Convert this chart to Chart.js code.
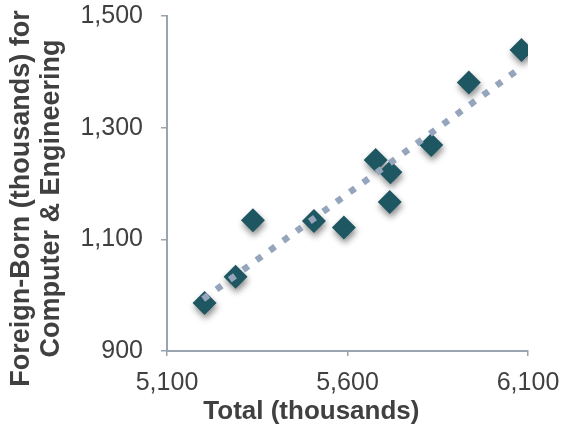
<!DOCTYPE html>
<html>
<head>
<meta charset="utf-8">
<script src="https://cdn.jsdelivr.net/npm/chart.js@4/dist/chart.umd.min.js"></script>
<style>
  html, body { margin: 0; padding: 0; background: #ffffff; }
  #wrap { width: 564px; height: 432px; position: relative; }
</style>
</head>
<body>
<div id="wrap"><canvas id="c" width="564" height="432"></canvas></div>
<script>
// Data
const totalThousands = [5204, 5290, 5338, 5507, 5590, 5678, 5719, 5717, 5832, 5936, 6082];
const foreignBornThousands = [986, 1033, 1134, 1133, 1121, 1242, 1220, 1167, 1269, 1381, 1439];
const trendX = [5200, 6075];
const trendY = [993, 1405];
const xTicks = [5100, 5600, 6100];
const yTicks = [900, 1100, 1300, 1500];
const xTitle = 'Total (thousands)';
const yTitle = ['Foreign-Born (thousands) for', 'Computer & Engineering'];

const fmt = v => Number(v).toLocaleString('en-US');
const FONT = "'Liberation Sans', Arial, sans-serif";
const AXIS = '#98a4b0';
const TEXT = '#404040';

const shadowPlugin = {
  id: 'pointShadow',
  beforeDatasetDraw(chart, args) {
    if (args.index === 0) {
      const ctx = chart.ctx;
      ctx.save();
      ctx.shadowColor = 'rgba(0,0,0,0.45)';
      ctx.shadowBlur = 6;
      ctx.shadowOffsetX = 1;
      ctx.shadowOffsetY = 4;
    }
  },
  afterDatasetDraw(chart, args) {
    if (args.index === 0) chart.ctx.restore();
  }
};

new Chart(document.getElementById('c'), {
  type: 'scatter',
  data: {
    datasets: [
      {
        label: 'Points',
        data: totalThousands.map((x, i) => ({ x: x, y: foreignBornThousands[i] })),
        pointStyle: 'rectRot',
        pointRadius: 12,
        pointHoverRadius: 12,
        backgroundColor: '#1e5662',
        borderColor: '#1e5662',
        borderWidth: 0,
        order: 1
      },
      {
        label: 'Trend',
        type: 'line',
        data: trendX.map((x, i) => ({ x: x, y: trendY[i] })),
        showLine: true,
        pointRadius: 0,
        borderColor: '#95a5bc',
        borderWidth: 6.5,
        borderDash: [6.5, 10],
        borderCapStyle: 'butt',
        fill: false,
        order: 0
      }
    ]
  },
  options: {
    responsive: false,
    animation: false,
    events: [],
    layout: { padding: { top: 16, right: 36, left: 0, bottom: 0 } },
    plugins: { legend: { display: false }, tooltip: { enabled: false } },
    scales: {
      x: {
        type: 'linear',
        min: 5100,
        max: 6100,
        afterBuildTicks(scale) { scale.ticks = xTicks.map(v => ({ value: v })); },
        afterFit(scale) { scale.height = 81; scale.paddingLeft = 0; scale.paddingRight = 0; },
        ticks: {
          color: TEXT,
          font: { family: FONT, size: 25 },
          padding: 12,
          maxRotation: 0,
          callback: v => fmt(v)
        },
        grid: {
          drawOnChartArea: false,
          drawTicks: true,
          tickLength: 5,
          color: AXIS,
          lineWidth: 1.5
        },
        border: { display: true, color: AXIS, width: 2, dash: [7, 4] },
        title: {
          display: true,
          text: xTitle + '          ',
          color: TEXT,
          font: { family: FONT, size: 26, weight: 'bold', lineHeight: 1.2 },
          padding: { top: 0, bottom: 5 }
        }
      },
      y: {
        type: 'linear',
        min: 900,
        max: 1500,
        afterBuildTicks(scale) { scale.ticks = yTicks.map(v => ({ value: v })); },
        afterFit(scale) { scale.width = 167; scale.paddingTop = 0; scale.paddingBottom = 0; },
        ticks: {
          color: TEXT,
          font: { family: FONT, size: 25 },
          padding: 18,
          callback: v => fmt(v)
        },
        grid: {
          drawOnChartArea: false,
          drawTicks: true,
          tickLength: 6,
          color: AXIS,
          lineWidth: 1.5
        },
        border: { display: true, color: AXIS, width: 2 },
        title: {
          display: true,
          text: yTitle.map(t => t + '    '),
          color: TEXT,
          font: { family: FONT, size: 27, weight: 'bold', lineHeight: 1.11 },
          padding: { top: 7, bottom: 0 }
        }
      }
    }
  },
  plugins: [shadowPlugin]
});
</script>
</body>
</html>
